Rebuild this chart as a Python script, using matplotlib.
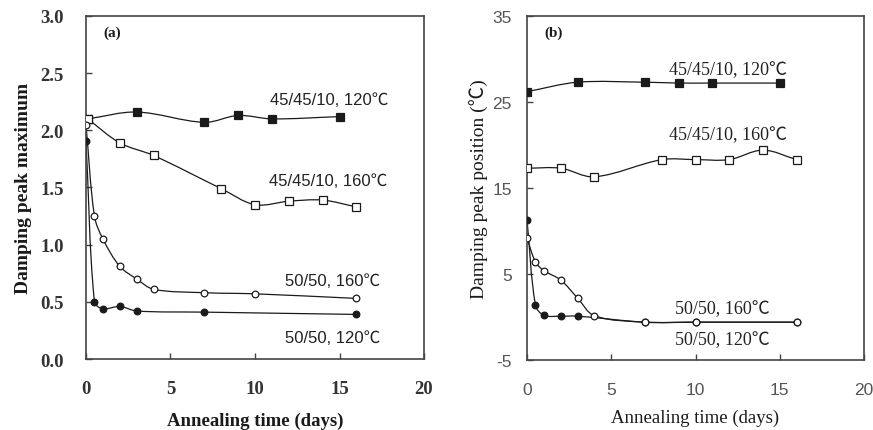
import numpy as np
import matplotlib
matplotlib.use('Agg')
import matplotlib.pyplot as plt
from matplotlib.path import Path
from matplotlib.patches import PathPatch

plt.rcParams['axes.unicode_minus'] = False

# panel (a): damping peak maximum
a_sq120_x = [0.1, 3, 7, 9, 11, 15]
a_sq120_y = [2.10, 2.16, 2.07, 2.13, 2.10, 2.12]
a_sq160_x = [0.1, 2, 4, 8, 10, 12, 14, 16]
a_sq160_y = [2.10, 1.89, 1.78, 1.49, 1.35, 1.38, 1.39, 1.33]
a_ci160_x = [0, 0.5, 1, 2, 3, 4, 7, 10, 16]
a_ci160_y = [2.05, 1.25, 1.05, 0.81, 0.70, 0.61, 0.58, 0.57, 0.53]
a_ci120_x = [0, 0.5, 1, 2, 3, 7, 16]
a_ci120_y = [1.91, 0.50, 0.44, 0.46, 0.42, 0.41, 0.39]

# panel (b): damping peak position
b_sq120_x = [0, 3, 7, 9, 11, 15]
b_sq120_y = [26.2, 27.3, 27.3, 27.2, 27.2, 27.2]
b_sq160_x = [0, 2, 4, 8, 10, 12, 14, 16]
b_sq160_y = [17.3, 17.3, 16.3, 18.3, 18.3, 18.3, 19.4, 18.3]
b_ci160_x = [0, 0.5, 1, 2, 3, 4, 7, 10, 16]
b_ci160_y = [9.2, 6.4, 5.4, 4.3, 2.2, 0.15, -0.6, -0.6, -0.6]
b_ci120_x = [0, 0.5, 1, 2, 3, 7, 10, 16]
b_ci120_y = [11.3, 1.4, 0.2, 0.1, 0.1, -0.6, -0.6, -0.6]

lab_120 = '45/45/10, 120\u2103'
lab_160 = '45/45/10, 160\u2103'
lab_50_160 = '50/50, 160\u2103'
lab_50_120 = '50/50, 120\u2103'

SERIF = ['Liberation Serif', 'Noto Sans CJK SC']
SANS = ['Liberation Sans', 'Noto Sans CJK SC']
INK = '#1a1a1a'


def smooth(ax, x, y, lw=0.9):
    # smoothed polyline: bezier control points along the neighbour chord,
    # a third of the segment length away, worked out in screen units
    xl, yl = ax.get_xlim(), ax.get_ylim()
    bb = ax.get_position()
    sx = bb.width * 873 / (xl[1] - xl[0])
    sy = bb.height * 431 / (yl[1] - yl[0])
    p = np.column_stack([np.asarray(x) * sx, np.asarray(y) * sy])
    n = len(p)
    tang = []
    for i in range(n):
        d = p[min(i + 1, n - 1)] - p[max(i - 1, 0)]
        tang.append(d / (np.hypot(*d) or 1.0))
    verts = [p[0]]
    codes = [Path.MOVETO]
    for i in range(n - 1):
        L = np.hypot(*(p[i + 1] - p[i])) / 3.0
        verts += [p[i] + tang[i] * L, p[i + 1] - tang[i + 1] * L, p[i + 1]]
        codes += [Path.CURVE4] * 3
    verts = np.array(verts) / [sx, sy]
    ax.add_patch(PathPatch(Path(verts, codes), fill=False, edgecolor=INK,
                           lw=lw, zorder=2))


def series(ax, x, y, marker, filled, ms):
    smooth(ax, x, y)
    ax.plot(x, y, ls='none', marker=marker, ms=ms, mew=0.9,
            mec=INK, mfc=INK if filled else 'white', zorder=3)


def frame(ax, spine_col):
    for s in ax.spines.values():
        s.set_color(spine_col)
        s.set_linewidth(1.2)
    ax.tick_params(direction='in', length=4, width=1, color=spine_col,
                   top=False, right=False)


fig = plt.figure(figsize=(8.73, 4.31), dpi=100)

# ---- (a)
ax1 = fig.add_axes([0.0985, 0.1647, 0.3872, 0.7959])
ax1.set_xlim(0, 20)
ax1.set_ylim(0, 3.0)
series(ax1, a_sq120_x, a_sq120_y, 's', True, 6)
series(ax1, a_sq160_x, a_sq160_y, 's', False, 6)
series(ax1, a_ci120_x, a_ci120_y, 'o', True, 4.8)
series(ax1, a_ci160_x, a_ci160_y, 'o', False, 4.8)
ax1.set_xticks([0, 5, 10, 15, 20])
ax1.set_yticks(np.arange(0, 3.01, 0.5))
ax1.set_yticklabels(['%.1f' % v for v in np.arange(0, 3.01, 0.5)])
frame(ax1, '#444444')
ax1.tick_params(axis='y', pad=16)
ax1.tick_params(axis='x', pad=15)
for t in ax1.get_xticklabels() + ax1.get_yticklabels():
    t.set_family(SERIF)
    t.set_fontweight('bold')
    t.set_fontsize(13.5)
    t.set_color('#333333')
ax1.set_xlabel('Annealing time (days)', family=SERIF, fontweight='bold',
               fontsize=13.5, color=INK, labelpad=10.5)
ax1.set_ylabel('Damping peak maximum', family=SERIF, fontweight='bold',
               fontsize=14, color=INK, labelpad=6)
ax1.text(0.05, 0.972, '(a)', transform=ax1.transAxes, family=SERIF,
         fontweight='bold', fontsize=11, va='top', ha='left', color=INK)
ax1.text(14.4, 2.27, lab_120, family=SANS, fontsize=12, ha='center',
         va='center', color='#222222')
ax1.text(14.3, 1.56, lab_160, family=SANS, fontsize=12, ha='center',
         va='center', color='#222222')
ax1.text(14.6, 0.69, lab_50_160, family=SANS, fontsize=12, ha='center',
         va='center', color='#222222')
ax1.text(14.6, 0.19, lab_50_120, family=SANS, fontsize=12, ha='center',
         va='center', color='#222222')

# ---- (b)
ax2 = fig.add_axes([0.6037, 0.1624, 0.3860, 0.7982])
ax2.set_xlim(0, 20)
ax2.set_ylim(-5, 35)
series(ax2, b_sq120_x, b_sq120_y, 's', True, 6)
series(ax2, b_sq160_x, b_sq160_y, 's', False, 6)
series(ax2, b_ci120_x, b_ci120_y, 'o', True, 4.8)
series(ax2, b_ci160_x, b_ci160_y, 'o', False, 4.8)
ax2.set_xticks([0, 5, 10, 15, 20])
ax2.set_yticks([-5, 5, 15, 25, 35])
frame(ax2, '#444444')
ax2.tick_params(axis='y', pad=11)
ax2.tick_params(axis='x', pad=16)
for t in ax2.get_xticklabels() + ax2.get_yticklabels():
    t.set_family(SANS)
    t.set_fontsize(12.5)
    t.set_color('#555555')
ax2.set_xlabel('Annealing time (days)', family=SERIF, fontsize=13.5,
               color=INK, labelpad=8)
ax2.set_ylabel('Damping peak position (\u2103)', family=SERIF, fontsize=14,
               color=INK, labelpad=2)
ax2.text(0.05, 0.972, '(b)', transform=ax2.transAxes, family=SERIF,
         fontweight='bold', fontsize=11, va='top', ha='left', color=INK)
ax2.text(11.9, 28.8, lab_120, family=SERIF, fontsize=13, ha='center',
         va='center', color='#222222')
ax2.text(11.9, 21.2, lab_160, family=SERIF, fontsize=13, ha='center',
         va='center', color='#222222')
ax2.text(11.6, 1.0, lab_50_160, family=SERIF, fontsize=13, ha='center',
         va='center', color='#222222')
ax2.text(11.6, -2.6, lab_50_120, family=SERIF, fontsize=13, ha='center',
         va='center', color='#222222')

fig.savefig('out.png', dpi=100)
